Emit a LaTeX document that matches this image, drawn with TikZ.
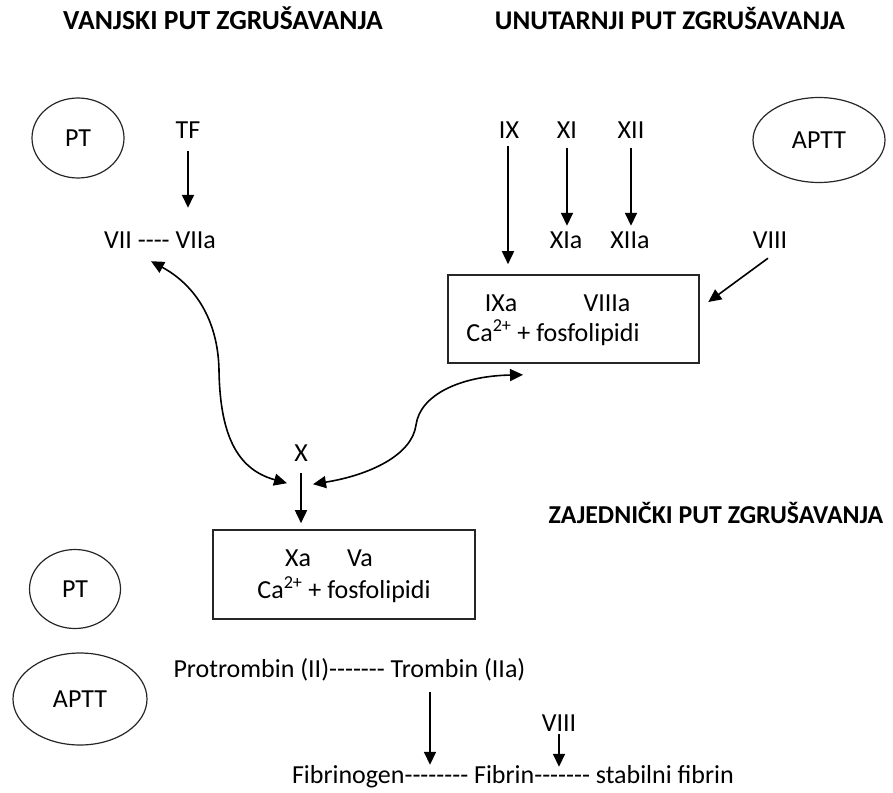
\documentclass[tikz,border=0pt]{standalone}
\usepackage{fontspec}
\setmainfont{Carlito}[Ligatures=TeXOff]
\usetikzlibrary{arrows.meta,calc,shapes.geometric}
\begin{document}
\begin{tikzpicture}[x=1pt,y=-1pt,
  font=\fontsize{26}{31}\selectfont,
  txt/.style={inner sep=0pt, text height=16pt, text depth=0pt},
  ttl/.style={txt, font=\fontsize{#1}{31}\selectfont\bfseries},
  oval/.style={draw=black!85, line width=1.2pt, ellipse, inner sep=0pt},
  frame/.style={draw=black!85, line width=1.6pt, rectangle, inner sep=0pt},
  arr/.style={line width=1.6pt, -{Triangle[length=13pt,width=12pt]}},
  dbl/.style={line width=1.6pt, {Triangle[length=13pt,width=12pt]}-{Triangle[length=13pt,width=12pt]}}
]
\useasboundingbox (0,0) rectangle (893,792);

% titles
\node[ttl=27.6] (t1) at (223,22) {VANJSKI PUT ZGRUŠAVANJA};
\node[ttl=27] (t2) at (670,22) {UNUTARNJI PUT ZGRUŠAVANJA};
\node[ttl=25.8] (t3) at (716,515) {ZAJEDNIČKI PUT ZGRUŠAVANJA};

% ovals
\node[oval, minimum width=92pt, minimum height=80pt] (pt1) at (78,138) {PT};
\node[oval, minimum width=132pt, minimum height=85pt] (aptt1) at (819,140) {APTT};
\node[oval, minimum width=91pt, minimum height=79pt] (pt2) at (75,589) {PT};
\node[oval, minimum width=134pt, minimum height=92pt] (aptt2) at (80,699) {APTT};

% extrinsic
\node[txt] (tf) at (188,130) {TF};
\node[txt] (vii) at (160,240) {VII ---- VIIa};

% intrinsic
\node[txt] (ix) at (509,130) {IX};
\node[txt] (xi) at (567,130) {XI};
\node[txt] (xii) at (631,130) {XII};
\node[txt] (xia) at (566,240) {XIa};
\node[txt] (xiia) at (630,240) {XIIa};
\node[txt] (viii) at (770,240) {VIII};

\node[frame, minimum width=251pt, minimum height=88pt] (box1) at (573.5,319) {};
\node[txt] (ixa) at (501,303) {IXa};
\node[txt] (viiia) at (607,303) {VIIIa};
\node[txt] (ca1) at (553,333) {Ca\textsuperscript{2+} + fosfolipidi};

% common
\node[txt] (x) at (301,453) {X};
\node[frame, minimum width=262pt, minimum height=89pt] (box2) at (344,574.5) {};
\node[txt] (xa) at (298,558) {Xa};
\node[txt] (va) at (360,558) {Va};
\node[txt] (ca2) at (344,590) {Ca\textsuperscript{2+} + fosfolipidi};

\node[txt] (prot) at (349.5,669) {Protrombin (II)------- Trombin (IIa)};
\node[txt] (viii2) at (559,723.5) {VIII};
\node[txt] (fib) at (513,775) {Fibrinogen-------- Fibrin------- stabilni fibrin};

% arrows
\draw[arr] ($(tf.south)+(0,13)$) -- ($(tf.south |- vii.north)+(0,-24)$);
\draw[arr] ($(ix.south)+(-1,8)$) -- ($(ix.south |- box1.north)+(-1,-10)$);
\draw[arr] ($(xi.south)+(0,10)$) -- ($(xi.south |- xia.north)+(0,-6)$);
\draw[arr] ($(xii.south)+(0,10)$) -- ($(xii.south |- xiia.north)+(0,-6)$);
\draw[arr] ($(viii.south)+(-2,10)$) -- ($(box1.east)+(8.5,-17)$);
\draw[arr] ($(x.south)+(0,12)$) -- ($(x.south |- box2.north)+(0,-6)$);

\draw[dbl] ($(vii.south)+(-9,13)$) .. controls (195,285) and (218,320) .. (219,370)
  .. controls (220,440) and (240,470) .. ($(x.south)+(-14,22)$);
\draw[dbl] ($(x.south)+(12,23)$) .. controls (370,475) and (412,455) .. (416,425)
  .. controls (420,395) and (460,376) .. ($(box1.south)+(-50.5,11)$);

\draw[arr] ($(prot.south)+(80.5,15)$) -- ($(fib.north)+(-83,-2)$);
\draw[arr] ($(viii2.south)+(0,2)$) -- ($(viii2.south |- fib.north)+(0,0)$);
\end{tikzpicture}
\end{document}
